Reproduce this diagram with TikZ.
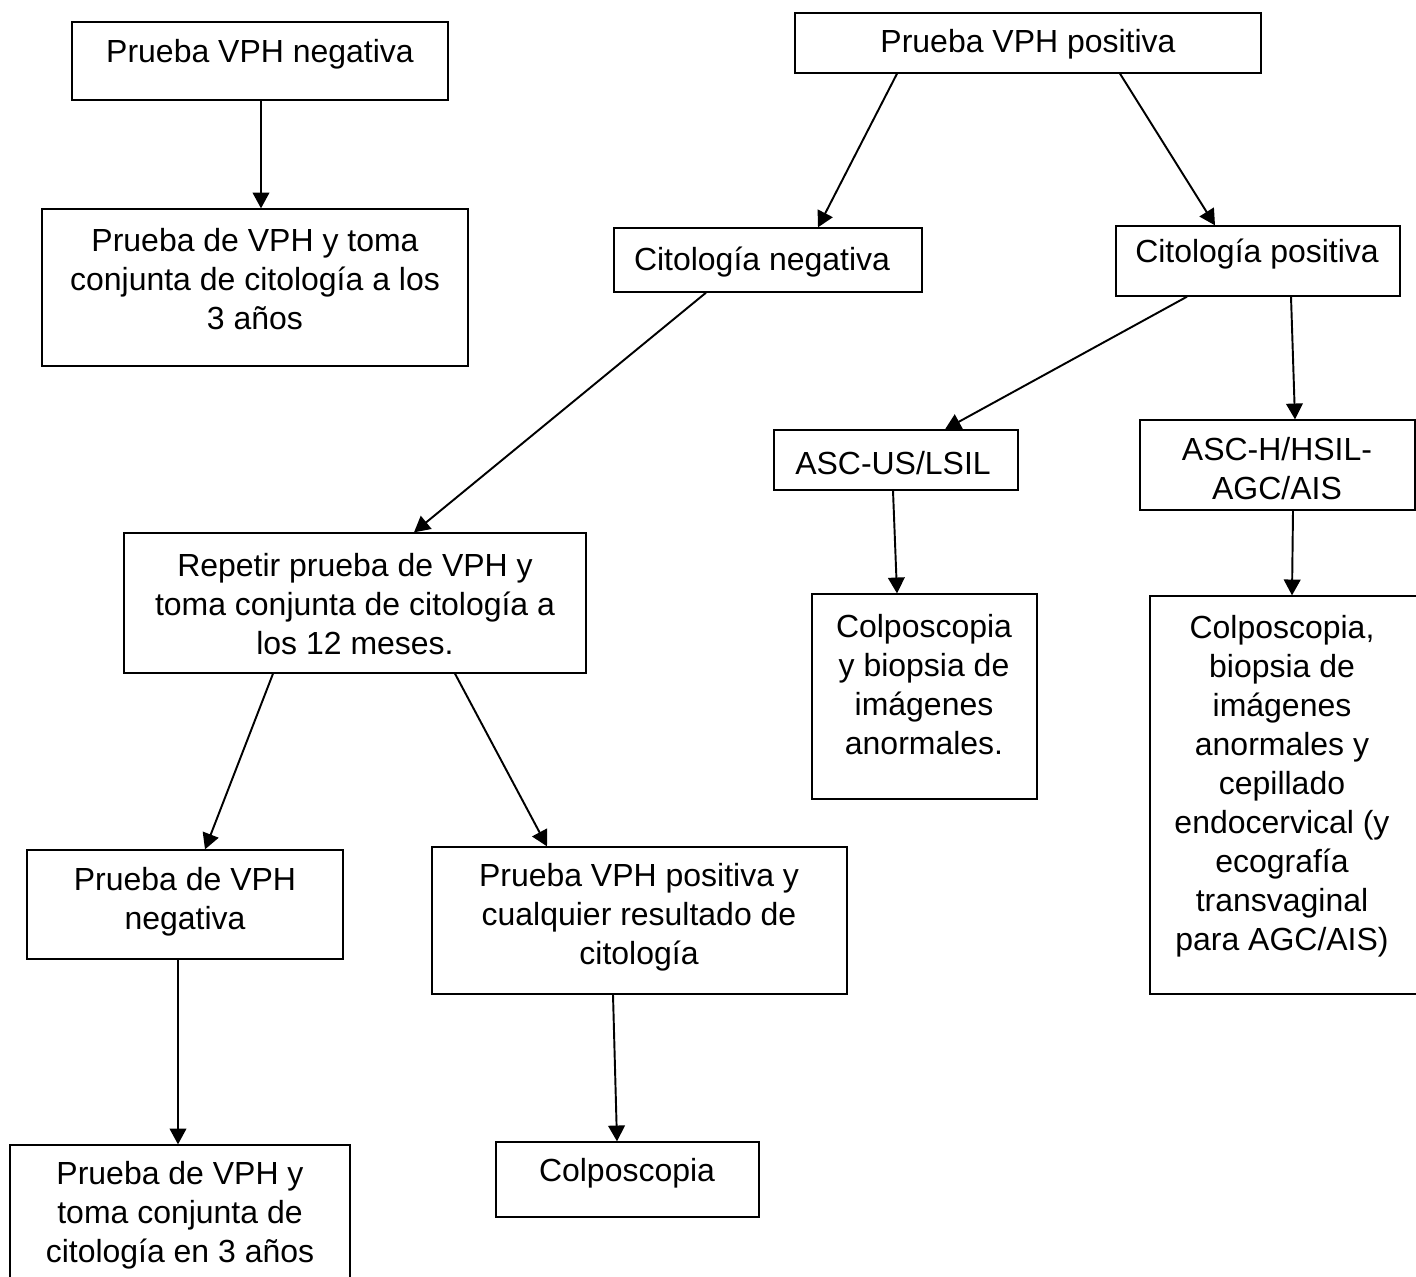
\documentclass[tikz,border=0pt]{standalone}
\usepackage{fontspec}
\setmainfont{Liberation Sans}
\usetikzlibrary{arrows.meta}
\begin{document}
\begin{tikzpicture}[x=0.02cm, y=-0.02cm,
  box/.style={draw=black, line width=0.75pt, rectangle, inner sep=0pt},
  lbl/.style={inner sep=0pt, align=center, font=\fontsize{18.2pt}{22.2pt}\selectfont},
  arr/.style={line width=1.1pt, -{Triangle[length=9pt, width=9.5pt]}}]
\useasboundingbox (0,0) rectangle (1416,1276);
\clip (0,0) rectangle (1416,1276);

% box outlines: corner coordinates in picture units
\newcommand{\flowbox}[5]{%
  \node[box, minimum width={(#4-#2)*0.02cm}, minimum height={(#5-#3)*0.02cm}]
    (#1) at ({(#2+#4)/2},{(#3+#5)/2}) {};}

\flowbox{n1}{72}{22}{448}{100}
\flowbox{n2}{42}{209}{468}{366}
\flowbox{p1}{795}{13}{1261}{73}
\flowbox{cn}{614}{228}{922}{292}
\flowbox{cp}{1116}{226}{1400}{296}
\flowbox{asc}{774}{430}{1018}{490}
\flowbox{ash}{1140}{420}{1415}{510}
\flowbox{rep}{124}{533}{586}{673}
\flowbox{col1}{812}{594}{1037}{799}
\flowbox{col2}{1150}{596}{1418}{994}
\flowbox{vn}{27}{850}{343}{959}
\flowbox{vp}{432}{847}{847}{994}
\flowbox{vn3}{10}{1145}{350}{1292}
\flowbox{colp}{496}{1142}{759}{1217}

% texts
\node[lbl] (t-n1) at (260,54) {Prueba VPH negativa};
\node[lbl] (t-n2) at (255,279) {Prueba de VPH y toma\\conjunta de citología a los\\3 años};
\node[lbl] (t-p1) at (1028,44) {Prueba VPH positiva};
\node[lbl] (t-cn) at (762,262) {Citología negativa};
\node[lbl] (t-cp) at (1257,254) {Citología positiva};
\node[lbl] (t-asc) at (893,463) {ASC-US/LSIL};
\node[lbl] (t-ash) at (1277,469) {ASC-H/HSIL-\\AGC/AIS};
\node[lbl] (t-rep) at (355,604) {Repetir prueba de VPH y\\toma conjunta de citología a\\los 12 meses.};
\node[lbl] (t-col1) at (924,685) {Colposcopia\\y biopsia de\\imágenes\\anormales.};
\node[lbl] (t-col2) at (1282,786) {Colposcopia,\\biopsia de\\imágenes\\anormales y\\cepillado\\endocervical (y\\ecografía\\transvaginal\\para AGC/AIS)};
\node[lbl] (t-vn) at (185,902) {Prueba de VPH\\negativa};
\node[lbl] (t-vp) at (639,917) {Prueba VPH positiva y\\cualquier resultado de\\citología};
\node[lbl] (t-vn3) at (180,1215) {Prueba de VPH y\\toma conjunta de\\citología en 3 años};
\node[lbl] (t-colp) at (627,1173) {Colposcopia};

% connectors
\draw[arr] (n1.south -| 261,0) -- (n2.north -| 261,0);
\draw[arr] (p1.south -| 897,0) -- (cn.north -| 818,0);
\draw[arr] (p1.south -| 1120,0) -- (cp.north -| 1215,0);
\draw[arr] (cn.south -| 706,0) -- (rep.north -| 414,0);
\draw[arr] (cp.south -| 1187,0) -- (asc.north -| 945,0);
\draw[arr] (cp.south -| 1291,0) -- (ash.north -| 1295,0);
\draw[arr] (asc.south -| 893,0) -- (col1.north -| 897,0);
\draw[arr] (ash.south -| 1293,0) -- (col2.north -| 1292,0);
\draw[arr] (rep.south -| 273,0) -- (vn.north -| 205,0);
\draw[arr] (rep.south -| 455,0) -- (vp.north -| 547,0);
\draw[arr] (vn.south -| 178,0) -- (vn3.north -| 178,0);
\draw[arr] (vp.south -| 613,0) -- (colp.north -| 617,0);
\end{tikzpicture}
\end{document}
